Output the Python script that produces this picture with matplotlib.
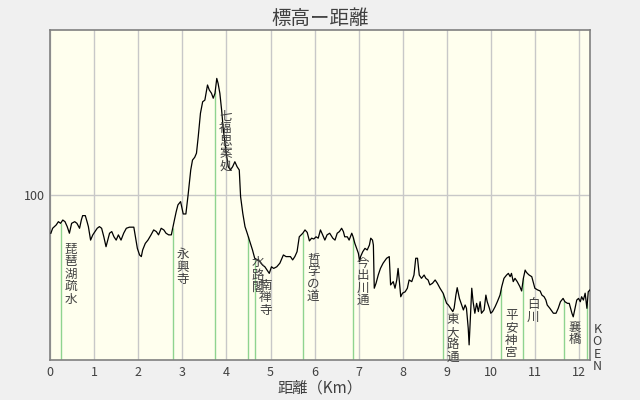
import numpy as np
import matplotlib
matplotlib.use("Agg")
import matplotlib.pyplot as plt
from matplotlib import transforms

plt.rcParams['font.family'] = ['Noto Sans CJK JP', 'DejaVu Sans']

# elevation profile (km, m)
dist_km = [0.02, 0.06, 0.14, 0.19, 0.24, 0.29, 0.34, 0.39, 0.44, 0.49, 0.56, 0.61, 0.67, 0.71, 0.74, 0.80,
           0.84, 0.87, 0.92, 0.97, 1.02, 1.07, 1.12, 1.17, 1.22, 1.27, 1.31, 1.35, 1.40, 1.45, 1.50, 1.55,
           1.61, 1.67, 1.73, 1.80, 1.90, 1.93, 1.98, 2.03, 2.07, 2.10, 2.16, 2.22, 2.29, 2.35, 2.41, 2.46,
           2.52, 2.58, 2.63, 2.69, 2.75, 2.78, 2.82, 2.86, 2.90, 2.96, 3.02, 3.08, 3.13, 3.19, 3.23, 3.28,
           3.32, 3.36, 3.41, 3.46, 3.51, 3.55, 3.57, 3.61, 3.66, 3.70, 3.74, 3.78, 3.81, 3.85, 3.89, 3.93,
           3.99, 4.04, 4.09, 4.14, 4.19, 4.24, 4.29, 4.32, 4.37, 4.42, 4.47, 4.53, 4.59, 4.64, 4.70, 4.76,
           4.82, 4.87, 4.92, 4.97, 5.02, 5.07, 5.14, 5.21, 5.29, 5.35, 5.40, 5.45, 5.50, 5.55, 5.60, 5.65,
           5.73, 5.78, 5.83, 5.88, 5.93, 5.98, 6.03, 6.08, 6.13, 6.18, 6.23, 6.28, 6.34, 6.41, 6.46, 6.51,
           6.56, 6.61, 6.65, 6.68, 6.74, 6.78, 6.84, 6.87, 6.91, 6.95, 6.99, 7.02, 7.04, 7.09, 7.14, 7.19,
           7.24, 7.27, 7.31, 7.33, 7.35, 7.39, 7.44, 7.49, 7.55, 7.63, 7.69, 7.72, 7.78, 7.82, 7.86, 7.89,
           7.92, 7.95, 7.99, 8.05, 8.10, 8.14, 8.20, 8.25, 8.29, 8.33, 8.37, 8.42, 8.48, 8.52, 8.57, 8.61,
           8.67, 8.73, 8.78, 8.84, 8.91, 8.95, 8.99, 9.03, 9.08, 9.13, 9.16, 9.20, 9.23, 9.28, 9.33, 9.37,
           9.41, 9.44, 9.48, 9.50, 9.54, 9.56, 9.59, 9.63, 9.67, 9.71, 9.75, 9.78, 9.84, 9.88, 9.91, 9.96,
           9.99, 10.03, 10.09, 10.14, 10.20, 10.24, 10.29, 10.35, 10.39, 10.43, 10.46, 10.50, 10.54, 10.59,
           10.65, 10.69, 10.73, 10.77, 10.79, 10.82, 10.86, 10.92, 10.95, 10.99, 11.05, 11.11, 11.15, 11.20,
           11.24, 11.27, 11.33, 11.41, 11.47, 11.52, 11.57, 11.63, 11.67, 11.73, 11.77, 11.83, 11.86, 11.90,
           11.94, 11.98, 12.02, 12.05, 12.09, 12.13, 12.17, 12.20, 12.24]
elev_m = [86.1, 87.9, 89.1, 90.3, 89.7, 90.9, 90.3, 88.5, 86.1, 89.7, 90.3, 89.7, 87.9, 90.9, 92.5, 92.5,
          90.3, 88.5, 83.6, 85.5, 86.7, 87.9, 88.5, 87.9, 84.8, 81.2, 83.6, 86.1, 86.7, 84.8, 83.6, 85.5,
          83.6, 86.1, 87.9, 88.3, 88.3, 85.5, 80.6, 78.2, 77.6, 80.0, 82.4, 83.6, 85.5, 87.3, 86.7, 85.5,
          87.9, 87.3, 86.1, 85.5, 85.5, 87.9, 90.9, 93.9, 96.4, 97.6, 93.1, 93.1, 100.0, 109.1, 112.7, 113.7,
          115.2, 121.2, 129.7, 133.9, 134.5, 138.2, 140.0, 138.2, 137.0, 135.2, 137.0, 142.4, 140.6, 137.0, 130.9, 123.6,
          115.7, 110.3, 109.1, 110.3, 112.1, 110.3, 109.1, 99.4, 93.3, 88.5, 86.1, 83.0, 80.0, 77.0, 76.4, 75.8,
          74.5, 73.9, 72.7, 71.5, 73.9, 73.3, 73.9, 75.2, 78.2, 77.6, 77.6, 77.6, 76.4, 77.6, 79.4, 84.8,
          86.1, 87.3, 86.4, 83.3, 84.3, 84.0, 84.8, 84.3, 87.3, 85.5, 83.6, 85.5, 86.1, 84.3, 83.6, 86.1,
          86.7, 87.9, 86.7, 84.8, 84.8, 83.6, 86.1, 84.8, 82.4, 80.6, 78.8, 75.8, 77.6, 79.4, 80.6, 80.0,
          81.8, 84.3, 83.6, 81.8, 66.1, 67.9, 70.9, 73.3, 75.2, 77.0, 77.6, 67.3, 68.5, 66.1, 69.1, 73.3,
          68.5, 63.0, 64.3, 64.8, 66.1, 69.1, 68.5, 70.9, 77.0, 77.0, 70.9, 69.7, 70.9, 69.7, 69.1, 67.3,
          67.9, 69.1, 67.9, 66.1, 64.3, 62.4, 60.6, 60.0, 58.8, 57.6, 58.8, 63.6, 66.3, 62.4, 60.0, 58.2,
          60.0, 58.8, 51.5, 45.5, 58.8, 66.1, 61.2, 57.0, 60.6, 57.6, 61.2, 57.0, 58.2, 63.6, 61.2, 58.8,
          57.0, 57.6, 59.4, 61.2, 63.6, 66.7, 69.7, 70.9, 71.5, 70.3, 71.5, 68.5, 69.7, 68.5,
          66.7, 65.1, 69.7, 72.7, 72.1, 71.5, 70.9, 70.3, 68.5, 66.1, 65.5, 65.1, 63.6, 63.0,
          61.8, 60.0, 58.8, 57.0, 57.0, 58.8, 61.2, 62.4, 61.2, 60.6, 60.6, 57.0, 55.7, 58.8,
          61.8, 62.4, 61.2, 63.0, 61.8, 64.3, 58.8, 64.8, 65.5]

# landmarks
spot_names = ['琵琶湖疏水', '永興寺', '七福思案処', '水路閣', '南禅寺', '哲学の道',
              '今出川通', '東大路通', '平安神宮', '白川', '襄橋', 'KOEN']
spot_km = [0.25, 2.78, 3.75, 4.49, 4.65, 5.74, 6.87, 8.91, 10.23, 10.73, 11.66, 12.18]

x_ticks = list(range(0, 13))
y_ticks = [100]

txt = '#404040'
fig = plt.figure(figsize=(6.4, 4.0), dpi=100, facecolor='#f0f0f0')
ax = fig.add_axes([50 / 640, 40 / 400, 540 / 640, 330 / 400])
ax.set_facecolor('#ffffee')

ax.set_xlim(0, 12.24)
ax.set_ylim(40, 160)
ax.set_xticks(x_ticks)
ax.set_yticks(y_ticks)
ax.grid(True, color='#c8c8c8', linewidth=1)
ax.set_axisbelow(True)
ax.tick_params(length=0, labelsize=9, colors=txt, pad=4)
for s in ax.spines.values():
    s.set_color('#808080')
    s.set_linewidth(1.2)

spot_elev = np.interp(spot_km, dist_km, elev_m)
ax.vlines(spot_km, 40, spot_elev, colors='#8fd48f', linewidth=1, zorder=2)
ax.plot(dist_km, elev_m, color='black', linewidth=0.9, zorder=3)

for name, k, e in zip(spot_names, spot_km, spot_elev):
    off = transforms.offset_copy(ax.transData, fig=fig, x=10, y=-20, units='dots')
    ax.text(k, e, '\n'.join(name), transform=off, ha='center', va='top',
            fontsize=9, color=txt, linespacing=0.95, zorder=4, clip_on=False)

ax.set_title('標高ー距離', fontsize=14, color=txt, pad=4)
ax.set_xlabel('距離（Km）', fontsize=11, color=txt, labelpad=1)

fig.savefig('out.png', dpi=100, facecolor=fig.get_facecolor())
